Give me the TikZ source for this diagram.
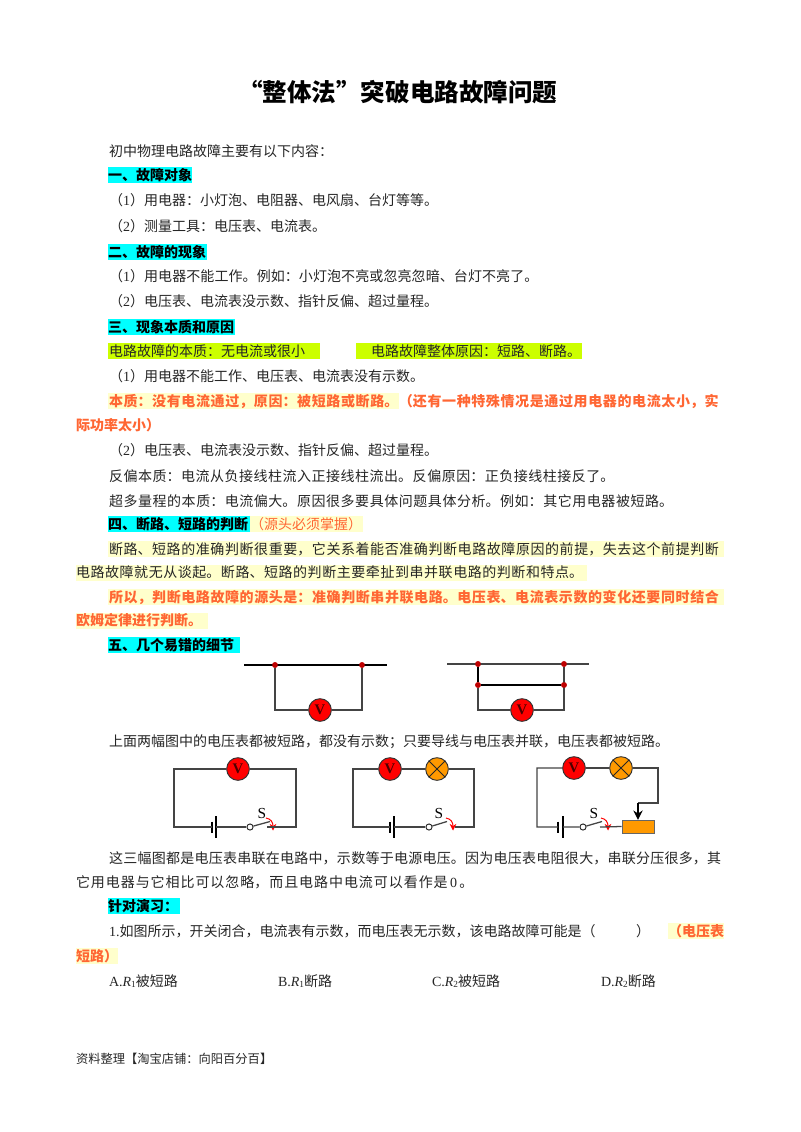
\documentclass[tikz,border=0pt]{standalone}
\usepackage{fontspec}
\setmainfont{Noto Sans CJK SC}
\newfontfamily\lat{Liberation Serif}
\usetikzlibrary{arrows.meta}
\definecolor{hlcyan}{HTML}{00FFFF}
\definecolor{hlgreen}{HTML}{CCFF00}
\definecolor{hlyellow}{HTML}{FFFFCC}
\definecolor{orangetxt}{HTML}{FF6633}
\definecolor{lampc}{HTML}{FF9900}
\definecolor{wirec}{HTML}{444444}
\XeTeXlinebreaklocale "zh"
\XeTeXlinebreakskip=0pt plus 3pt minus 0.6pt
\tikzset{
  x=0.75pt,y=-0.75pt,
  txt/.style={anchor=base west,inner sep=0pt,outer sep=0pt,font=\fontsize{10.5pt}{12pt}\selectfont,text=black!85},
  head/.style={txt,font=\fontsize{10.5pt}{12pt}\selectfont\bfseries,text=black},
  warn/.style={txt,font=\fontsize{10.5pt}{12pt}\selectfont\bfseries,text=orangetxt},
  jl/.style={text width=#1*0.75pt,execute at begin node={\parfillskip=0pt\relax}},
  wire/.style={draw=wirec,line width=0.95pt},
  meter/.style={circle,draw=black!80,fill=red,line width=0.7pt,minimum size=17pt,inner sep=0pt,font=\lat\bfseries\fontsize{11pt}{11pt}\selectfont,text=black!70!red},
  lampn/.style={circle,draw=black!80,fill=lampc,line width=0.7pt,minimum size=17pt,inner sep=0pt},
  dotn/.style={circle,fill=red!75!black,minimum size=4.2pt,inner sep=0pt},
  rheo/.style={rectangle,draw=black!60,fill=lampc,line width=0.5pt,minimum width=24pt,minimum height=9.5pt,inner sep=0pt},
  swl/.style={inner sep=0pt,font=\lat\fontsize{11.5pt}{12pt}\selectfont},
  pivot/.style={circle,draw=black!85,fill=white,line width=0.7pt,minimum size=4.6pt,inner sep=0pt}
}
\newcommand{\lampcross}[1]{\draw[black!85,line width=0.7pt] (#1.45)--(#1.225) (#1.135)--(#1.315);}
% battery: name, x of thick plate, x of thin plate, y of wire
\newcommand{\battery}[4]{%
  \coordinate (#1a) at (#2,#4); \coordinate (#1b) at (#3,#4);
  \draw[black,line width=2.2pt] (#2,#4-5.5)--(#2,#4+5.5);
  \draw[black,line width=0.9pt] (#3,#4-11)--(#3,#4+11);}
% switch: name, x of pivot, x of arm end, x of contact, y of wire, x of arrow tip
\newcommand{\swtch}[6]{%
  \node[pivot] (#1p) at (#2,#5) {};
  \coordinate (#1c) at (#4,#5);
  \coordinate (#1e) at (#3,#5-5.5);
  \draw[wire] (#1p)--(#1e);
  \node[swl] (#1s) at (#3-8,#5-14) {S};
  \draw[red,line width=0.75pt,-{Stealth[length=5pt,width=5pt]}] (#6-7,#5-9) .. controls (#6-2,#5-8) and (#6,#5-5) .. (#6,#5+3.5);}
\begin{document}
\begin{tikzpicture}
\useasboundingbox (0,0) rectangle (800,1132);
\fill[white] (0,0) rectangle (800,1132);
% highlights
\fill[hlcyan] (108,167) rectangle (192,183);
\fill[hlcyan] (108,244) rectangle (207,260);
\fill[hlcyan] (108,319) rectangle (235,335);
\fill[hlgreen] (108,343) rectangle (320,359);
\fill[hlgreen] (356,343) rectangle (582,359);
\fill[hlyellow] (108,393) rectangle (399,409);
\fill[hlcyan] (108,516) rectangle (250,532);
\fill[hlyellow] (250,516) rectangle (363,532);
\fill[hlyellow] (108,541) rectangle (724,557);
\fill[hlyellow] (76,565) rectangle (587,581);
\fill[hlyellow] (108,589) rectangle (724,605);
\fill[hlyellow] (76,613) rectangle (208,629);
\fill[hlcyan] (108,637) rectangle (240,653);
\fill[hlcyan] (108,898) rectangle (180,914);
\fill[hlyellow] (668,923) rectangle (724,939);
\fill[hlyellow] (76,948) rectangle (118,964);
% text
\node[anchor=base west,inner sep=0pt,font=\fontsize{18.4pt}{20pt}\selectfont\bfseries] (title) at (238,101) {“整体法”突破电路故障问题};
\node[txt] (t1) at (109,156) {初中物理电路故障主要有以下内容：};
\node[head] (h1) at (108,180) {一、故障对象};
\node[txt] (t2) at (109,205) {（{\lat 1}）用电器：小灯泡、电阻器、电风扇、台灯等等。};
\node[txt] (t3) at (109,231) {（{\lat 2}）测量工具：电压表、电流表。};
\node[head] (h2) at (108,257) {二、故障的现象};
\node[txt,jl=430] (t4) at (109,281) {（{\lat 1}）用电器不能工作。例如：小灯泡不亮或忽亮忽暗、台灯不亮了。};
\node[txt] (t5) at (109,306) {（{\lat 2}）电压表、电流表没示数、指针反偏、超过量程。};
\node[head] (h3) at (108,332) {三、现象本质和原因};
\node[txt] (t6) at (109,356) {电路故障的本质：无电流或很小};
\node[txt] (t7) at (371,356) {电路故障整体原因：短路、断路。};
\node[txt] (t8) at (109,381) {（{\lat 1}）用电器不能工作、电压表、电流表没有示数。};
\node[warn,jl=614] (t9) at (109,406) {本质：没有电流通过，原因：被短路或断路。（还有一种特殊情况是通过用电器的电流太小，实};
\node[warn] (t10) at (76,430) {际功率太小）};
\node[txt] (t11) at (109,455) {（{\lat 2}）电压表、电流表没示数、指针反偏、超过量程。};
\node[txt,jl=509] (t12) at (109,481) {反偏本质：电流从负接线柱流入正接线柱流出。反偏原因：正负接线柱接反了。};
\node[txt,jl=568] (t13) at (109,506) {超多量程的本质：电流偏大。原因很多要具体问题具体分析。例如：其它用电器被短路。};
\node[head] (h4) at (108,529) {四、断路、短路的判断};
\node[warn,font=\fontsize{10.5pt}{12pt}\selectfont] (h4b) at (250,529) {（源头必须掌握）};
\node[txt,jl=614] (t14) at (109,554) {断路、短路的准确判断很重要，它关系着能否准确判断电路故障原因的前提，失去这个前提判断};
\node[txt,jl=511] (t15) at (76,577) {电路故障就无从谈起。断路、短路的判断主要牵扯到串并联电路的判断和特点。};
\node[warn,jl=614] (t16) at (109,602) {所以，判断电路故障的源头是：准确判断串并联电路。电压表、电流表示数的变化还要同时结合};
\node[warn] (t17) at (76,625) {欧姆定律进行判断。};
\node[head] (h5) at (108,650) {五、几个易错的细节};
\node[txt] (t18) at (109,746) {上面两幅图中的电压表都被短路，都没有示数；只要导线与电压表并联，电压表都被短路。};
\node[txt,jl=614] (t19) at (109,863) {这三幅图都是电压表串联在电路中，示数等于电源电压。因为电压表电阻很大，串联分压很多，其};
\node[txt,jl=404] (t20) at (76,887) {它用电器与它相比可以忽略，而且电路中电流可以看作是\,{\lat 0}\,。};
\node[head] (h6) at (108,911) {针对演习：};
\node[txt] (t21) at (109,936) {{\lat 1.}如图所示，开关闭合，电流表有示数，而电压表无示数，该电路故障可能是（};
\node[txt] (t22) at (636,936) {）};
\node[warn] (t23) at (668,936) {（电压表};
\node[warn] (t24) at (76,961) {短路）};
\node[txt] (a1) at (109,986) {{\lat A.\textit{R}\raisebox{-0.3ex}{\fontsize{7pt}{7pt}\selectfont 1}}被短路};
\node[txt] (a2) at (278,986) {{\lat B.\textit{R}\raisebox{-0.3ex}{\fontsize{7pt}{7pt}\selectfont 1}}断路};
\node[txt] (a3) at (432,986) {{\lat C.\textit{R}\raisebox{-0.3ex}{\fontsize{7pt}{7pt}\selectfont 2}}被短路};
\node[txt] (a4) at (601,986) {{\lat D.\textit{R}\raisebox{-0.3ex}{\fontsize{7pt}{7pt}\selectfont 2}}断路};
\node[txt,font=\fontsize{9.2pt}{11pt}\selectfont] (foot) at (76,1063) {资料整理【淘宝店铺：向阳百分百】};
% circuit A
\coordinate (Al) at (244,665); \coordinate (Ar) at (387,665);
\node[dotn] (Ad1) at (275,665) {}; \node[dotn] (Ad2) at (362,665) {};
\coordinate (Ac1) at (275,710); \coordinate (Ac2) at (362,710);
\draw[black,line width=1.2pt] (Al)--(Ar);
\node[meter] (Av) at (320,710) {V};
\draw[wire] (Ad1)--(Ac1)--(Av) (Av)--(Ac2)--(Ad2);
\node[dotn] at (Ad1) {}; \node[dotn] at (Ad2) {};
% circuit B
\coordinate (Bl) at (447,664); \coordinate (Br) at (589,664);
\node[dotn] (Bd1) at (478,664) {}; \node[dotn] (Bd2) at (564,664) {};
\node[dotn] (Bd3) at (478,685) {}; \node[dotn] (Bd4) at (564,685) {};
\coordinate (Bc1) at (478,710); \coordinate (Bc2) at (564,710);
\node[meter] (Bv) at (522,710) {V};
\draw[wire] (Bl)--(Br);
\draw[black,line width=1.2pt] (Bd1)--(Bd3)--(Bd4);
\draw[wire] (Bd3)--(Bc1)--(Bv) (Bv)--(Bc2)--(Bd2);
\foreach \n in {Bd1,Bd2,Bd3,Bd4} \node[dotn] at (\n) {};
% circuit C1
\coordinate (Ca) at (174,769); \coordinate (Cb) at (174,827);
\coordinate (Cc) at (296,827); \coordinate (Cd) at (296,769);
\node[meter] (Cv) at (238,769) {V};
\battery{Cbat}{212}{216}{827}
\swtch{Csw}{250}{270}{267}{827}{273}
\draw[wire] (Cv)--(Ca)--(Cb)--(Cbata) (Cbatb)--(Cswp) (Cswc)--(Cc)--(Cd)--(Cv);
% circuit C2
\coordinate (Da) at (353,769); \coordinate (Db) at (353,827);
\coordinate (Dc) at (474,827); \coordinate (Dd) at (474,769);
\node[meter] (Dv) at (390,769) {V};
\node[lampn] (Dl) at (437,769) {}; \lampcross{Dl}
\battery{Dbat}{390}{394}{827}
\swtch{Dsw}{429}{447}{455}{827}{453}
\draw[wire] (Dv)--(Da)--(Db)--(Dbata) (Dbatb)--(Dswp) (Dswc)--(Dc)--(Dd)--(Dl) (Dl)--(Dv);
% circuit C3
\coordinate (Ea) at (537,768); \coordinate (Eb) at (537,827);
\coordinate (Ed) at (658,768); \coordinate (Ee) at (658,803); \coordinate (Ef) at (638,803);
\node[meter] (Ev) at (574,768) {V};
\node[lampn] (El) at (621,768) {}; \lampcross{El}
\node[rheo] (Er) at (638,826.5) {};
\battery{Ebat}{558}{563}{827}
\swtch{Esw}{583}{602}{600}{827}{608}
\draw[wire] (Ev)--(Ea)--(Eb)--(Ebata) (Ebatb)--(Eswp) (Eswc)--(Er.west);
\draw[wire] (Ev)--(El) (El)--(Ed)--(Ee)--(Ef);
\draw[wire,black,-{Stealth[length=7pt,width=7pt]}] (Ef)--(Er.north);
\end{tikzpicture}
\end{document}
